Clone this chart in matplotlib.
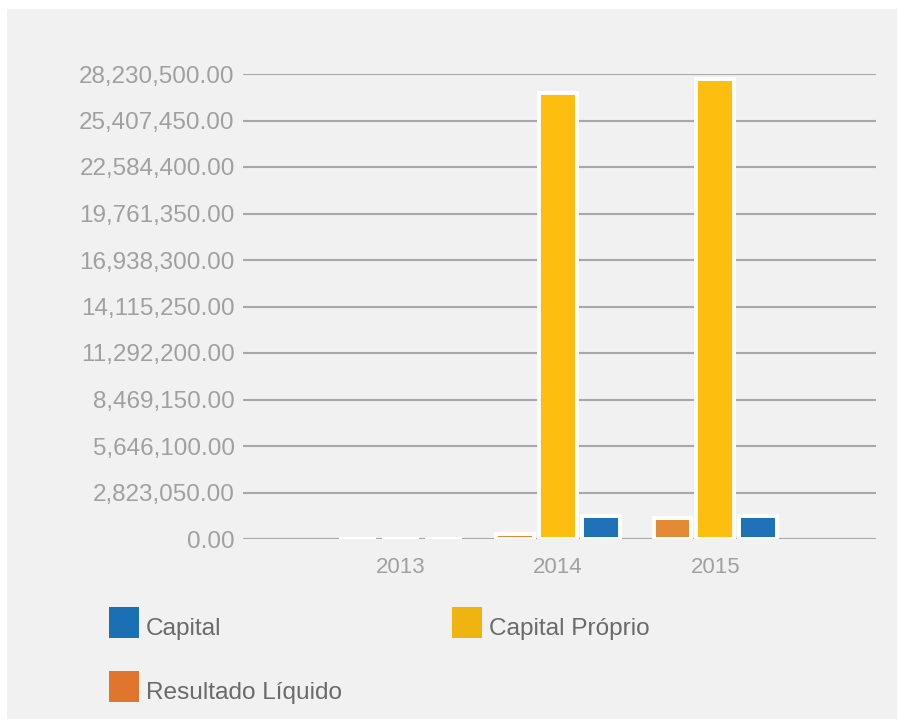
import matplotlib
matplotlib.use("Agg")
import matplotlib.pyplot as plt
from matplotlib.patches import Rectangle
import numpy as np

years = ["2013", "2014", "2015"]
series = ["Resultado Líquido", "Capital Próprio", "Capital"]
resultado = [0, 300000, 1260000]
capital_proprio = [0, 27090000, 27930000]
capital = [0, 1400000, 1400000]
values = [resultado, capital_proprio, capital]
bar_colors = ["#e38a35", "#fdbe10", "#1f72b8"]
legend_order = ["Capital", "Capital Próprio", "Resultado Líquido"]
legend_colors = {"Capital": "#1a6fb5", "Capital Próprio": "#f0b411", "Resultado Líquido": "#e0762e"}
yticks = [i * 2823050 for i in range(11)]

plt.rcParams['font.family'] = ['Liberation Sans', 'DejaVu Sans']

W, H = 899, 722
fig = plt.figure(figsize=(W / 100, H / 100), dpi=100, facecolor="white")
fig.add_artist(Rectangle((7 / W, 1 - 719 / H), (897 - 7) / W, (719 - 9) / H,
                         transform=fig.transFigure, facecolor="#f1f1f1", edgecolor="none", zorder=-10))

ax = fig.add_axes([243 / W, 1 - 539 / H, (876 - 243) / W, (539 - 74) / H])
ax.set_facecolor("none")
x = np.arange(len(years))
bw = 0.24
step = 0.273
for i, (vals, col) in enumerate(zip(values, bar_colors)):
    ax.bar(x + (i - 1) * step, vals, width=bw, color=col, edgecolor="white", linewidth=2.8, zorder=3)

ax.set_xlim(-1, 3.02)
ax.set_ylim(0, yticks[-1])
ax.set_yticks(yticks)
ax.set_yticklabels([f"{v:,.2f}" for v in yticks])
ax.set_xticks(x)
ax.set_xticklabels(years)
ax.grid(axis="y", color="#a8a8a8", linewidth=1.5, zorder=1)
ax.set_axisbelow(True)
for s in ax.spines.values():
    s.set_visible(False)
ax.tick_params(axis="both", length=0, labelcolor="#a0a0a0")
ax.tick_params(axis="y", pad=6, labelsize=17.5)
ax.tick_params(axis="x", pad=13, labelsize=16)

# legend
pos = {"Capital": (109, 607), "Capital Próprio": (452, 607), "Resultado Líquido": (109, 671)}
for name in legend_order:
    px, py = pos[name]
    fig.add_artist(Rectangle((px / W, 1 - (py + 31) / H), 30 / W, 31 / H,
                             transform=fig.transFigure, facecolor=legend_colors[name], edgecolor="none"))
    fig.text((px + 37) / W, 1 - (py + 22) / H, name, fontsize=17.6, color="#6a6a6a",
             ha="left", va="center")

fig.savefig("out.png", dpi=100, facecolor="white")
